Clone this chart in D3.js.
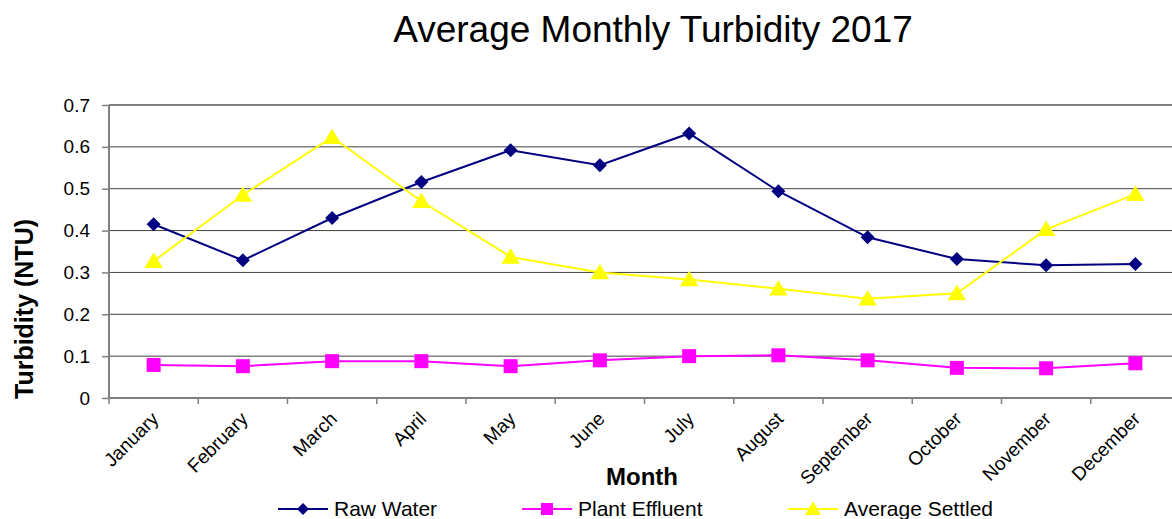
<!DOCTYPE html>
<html>
<head>
<meta charset="utf-8">
<script src="https://cdn.jsdelivr.net/npm/d3@7"></script>
<style>
  body { margin: 0; background: #fff; }
  svg { display: block; font-family: "Liberation Sans", Arial, sans-serif; }
</style>
</head>
<body>
<svg id="chart" width="1172" height="519"></svg>
<script>
// chart data
var months = ["January", "February", "March", "April", "May", "June",
              "July", "August", "September", "October", "November", "December"];
var rawWater = [0.415, 0.329, 0.430, 0.516, 0.592, 0.556, 0.632, 0.494, 0.384, 0.332, 0.317, 0.320];
var plantEffluent = [0.079, 0.076, 0.088, 0.088, 0.076, 0.090, 0.100, 0.102, 0.090, 0.072, 0.071, 0.083];
var averageSettled = [0.327, 0.485, 0.623, 0.470, 0.337, 0.300, 0.283, 0.261, 0.237, 0.250, 0.403, 0.487];
var yTicks = [0, 0.1, 0.2, 0.3, 0.4, 0.5, 0.6, 0.7];

var series = [
    { name: "Raw Water", values: rawWater, color: "#000080", symbol: "diamond" },
    { name: "Plant Effluent", values: plantEffluent, color: "#ff00ff", symbol: "square" },
    { name: "Average Settled", values: averageSettled, color: "#ffff00", symbol: "triangle" }
];

var margin = { left: 109, top: 105 };
var plotW = 1071, plotH = 293;

var svg = d3.select("#chart");

var x = d3.scaleBand().domain(months).range([0, plotW]);
var y = d3.scaleLinear().domain([0, 0.7]).range([plotH, 0]);

var g = svg.append("g").attr("transform", "translate(" + margin.left + "," + margin.top + ")");

// horizontal gridlines
g.append("g")
    .selectAll("line")
    .data(yTicks.slice(1))
    .enter().append("line")
    .attr("x1", 0).attr("x2", plotW)
    .attr("y1", function(d) { return y(d); })
    .attr("y2", function(d) { return y(d); })
    .style("stroke", function(d) { return d === 0.7 ? "#808080" : "#404040"; })
    .style("stroke-width", function(d) { return d === 0.7 ? 2 : 1; });

// y axis
var yAxis = g.append("g")
    .call(d3.axisLeft(y).tickValues(yTicks).tickSize(7).tickPadding(12)
        .tickFormat(function(d) { return d === 0 ? "0" : d3.format(".1f")(d); }));
yAxis.select(".domain").style("stroke", "#808080").style("stroke-width", 2)
    .attr("d", "M0," + plotH + "V0");
yAxis.selectAll(".tick line").style("stroke", "#808080").style("stroke-width", 1.5);
yAxis.selectAll("text").style("font-size", "19px").style("fill", "#000")
    .style("font-family", "'Liberation Sans', Arial, sans-serif");

// x axis: ticks sit at category boundaries
var xAxisG = g.append("g").attr("transform", "translate(0," + plotH + ")");
xAxisG.append("line")
    .attr("x1", 0).attr("x2", plotW)
    .style("stroke", "#808080").style("stroke-width", 2);
xAxisG.selectAll(".xtick")
    .data(months)
    .enter().append("line")
    .attr("class", "xtick")
    .attr("x1", function(d) { return x(d); })
    .attr("x2", function(d) { return x(d); })
    .attr("y1", 0).attr("y2", 6)
    .style("stroke", "#808080").style("stroke-width", 1.5);
xAxisG.selectAll(".xlabel")
    .data(months)
    .enter().append("text")
    .attr("class", "xlabel")
    .attr("transform", function(d) {
        return "translate(" + (x(d) + x.bandwidth() / 2 - 2) + ",14) rotate(-45)";
    })
    .attr("text-anchor", "end")
    .attr("dy", "0.6em")
    .style("font-size", "19px")
    .text(function(d) { return d; });

// lines and markers
var line = d3.line()
    .x(function(d, i) { return x(months[i]) + x.bandwidth() / 2; })
    .y(function(d) { return y(d); });

// excel-like markers: wide diamond, square, triangle
function marker(type, s) {
    if (type === "diamond") return "M0," + (-s) + "L" + s + ",0L0," + s + "L" + (-s) + ",0Z";
    if (type === "square") return "M" + (-s) + "," + (-s) + "H" + s + "V" + s + "H" + (-s) + "Z";
    return "M0," + (-s * 1.1) + "L" + (s * 1.15) + "," + (s * 0.85) + "H" + (-s * 1.15) + "Z";
}
var markerSize = { diamond: 7, square: 7, triangle: 8 };

series.forEach(function(s) {
    g.append("path")
        .datum(s.values)
        .attr("d", line)
        .style("fill", "none")
        .style("stroke", s.color)
        .style("stroke-width", 2);

    g.append("g")
        .selectAll("path")
        .data(s.values)
        .enter().append("path")
        .attr("d", marker(s.symbol, markerSize[s.symbol]))
        .attr("transform", function(d, i) {
            return "translate(" + (x(months[i]) + x.bandwidth() / 2) + "," + y(d) + ")";
        })
        .style("fill", s.color);
});

// title and axis titles
svg.append("text")
    .attr("x", 653).attr("y", 42)
    .attr("text-anchor", "middle")
    .style("font-size", "37px")
    .text("Average Monthly Turbidity 2017");

svg.append("text")
    .attr("transform", "translate(33,309) rotate(-90)")
    .attr("text-anchor", "middle")
    .style("font-size", "25px")
    .style("font-weight", "bold")
    .text("Turbidity (NTU)");

svg.append("text")
    .attr("x", 642).attr("y", 485)
    .attr("text-anchor", "middle")
    .style("font-size", "24px")
    .style("font-weight", "bold")
    .text("Month");

// legend
var legendX = [278, 522, 788];
var legend = svg.append("g").selectAll("g")
    .data(series)
    .enter().append("g")
    .attr("transform", function(d, i) { return "translate(" + legendX[i] + ",509)"; });
legend.append("line")
    .attr("x1", 0).attr("x2", 50)
    .style("stroke", function(d) { return d.color; })
    .style("stroke-width", 2);
legend.append("path")
    .attr("d", function(d) { return marker(d.symbol, markerSize[d.symbol] - 1); })
    .attr("transform", "translate(25,0)")
    .style("fill", function(d) { return d.color; });
legend.append("text")
    .attr("x", 56).attr("dy", "0.35em")
    .style("font-size", "21px")
    .text(function(d) { return d.name; });
</script>
</body>
</html>
